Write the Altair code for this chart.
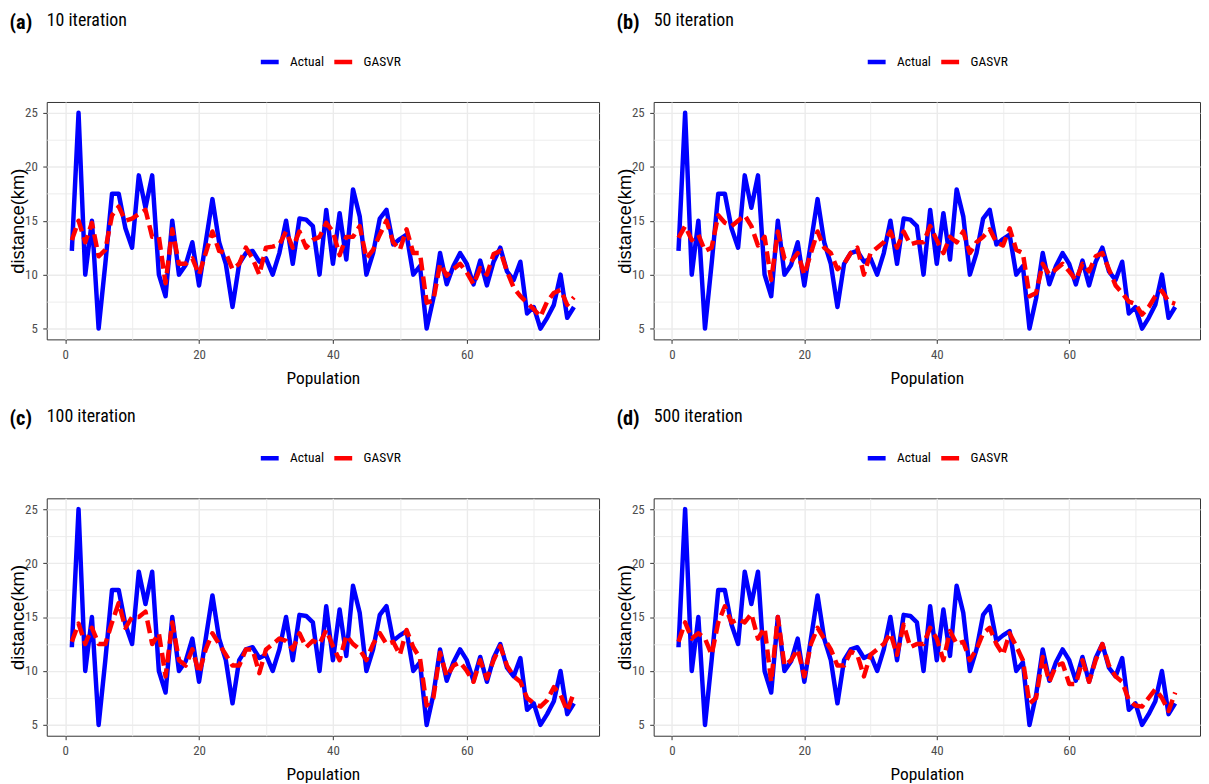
import altair as alt
import pandas as pd

population = list(range(1, 77))

actual = [12.2, 25, 10, 15, 5, 11, 17.5, 17.5, 14.3, 12.5,
          19.2, 16.2, 19.2, 10, 8, 15, 10, 10.9, 13, 9,
          13, 17, 13, 11, 7, 11, 12, 12.2, 11.2, 11.5,
          10, 12, 15, 11, 15.2, 15.1, 14.5, 10, 16, 11,
          15.7, 11.4, 17.9, 15.4, 10, 12, 15.2, 16, 12.8, 13.3,
          13.7, 10, 10.8, 5, 7.8, 12, 9.1, 10.8, 12, 11,
          9.1, 11.3, 9, 11.2, 12.5, 10.3, 9.5, 11.2, 6.4, 7,
          5, 6, 7.2, 10, 6, 7]

gasvr_10 = [13.2, 15, 13, 14.8, 11.7, 12.3, 15.5, 16.3, 15, 15.2,
            15.6, 16, 13.5, 13.5, 9.2, 14.2, 11, 11, 11.5, 10,
            12, 14, 12.2, 12, 10.5, 11, 12.5, 11.5, 10, 12.5,
            12.6, 12.8, 14, 12.5, 14, 12.5, 13.2, 13.5, 14.8, 14,
            11.8, 13.5, 13.5, 14.5, 11.5, 12.3, 13.7, 15, 13, 12.3,
            14.2, 12, 12, 7.4, 7.6, 11, 9.9, 10.5, 11, 10.2,
            9.1, 10.6, 10, 11.9, 12.2, 10.3, 8.8, 8, 7.4, 6.8,
            6.1, 7.5, 8.3, 8.6, 7.2, 7.9]

gasvr_50 = [13.4, 14.5, 13.2, 13.7, 12.2, 12.5, 15.5, 14.8, 14.5, 15,
            15.5, 14.5, 12.7, 13.5, 9.5, 14, 11.5, 11.2, 12, 10,
            12, 14, 12.5, 12, 10.5, 11, 12, 12.5, 10, 12,
            12.5, 13, 14, 12.5, 14, 12.8, 13, 13, 14.5, 13.2,
            12, 13.5, 13, 14, 12, 13, 13.5, 14.2, 13, 12.7,
            14.3, 12.3, 12, 8, 8.3, 11, 10, 10.5, 11, 10.3,
            9.5, 11, 10.3, 11.7, 12, 10.5, 9, 8.3, 7.5, 7.3,
            6.3, 7, 8, 8.5, 7.5, 7.3]

gasvr_100 = [12.7, 14.4, 12.5, 14, 12.5, 12.5, 14.5, 16.3, 14, 15,
             15, 15.5, 12.5, 13.5, 9.5, 14.5, 11, 10.5, 12, 9.8,
             12, 13.5, 12.5, 11.5, 10.5, 10.5, 12, 12, 9.8, 12,
             12.5, 13, 12.8, 12, 13.5, 12.2, 12.8, 12.5, 13.8, 12.3,
             11, 13.3, 12.5, 12, 11, 12.5, 13.5, 12.5, 12.7, 11.5,
             13.8, 12.2, 11.2, 6.8, 7.5, 11.7, 9.5, 10.5, 10.8, 10,
             9, 11, 9.3, 11, 12.3, 10.5, 9.5, 9, 7.5, 7,
             6.7, 7.3, 8.5, 7.8, 6.3, 8]

gasvr_500 = [12.7, 14.5, 13, 13.5, 13, 11.5, 14.5, 16, 14.5, 14.8,
             14.5, 15.3, 13, 14, 9, 15, 10.5, 11, 12, 9.5,
             12.5, 14, 13, 12, 10.5, 10.5, 11.8, 11.5, 9.5, 11.5,
             12, 12.5, 13.5, 11.5, 14.3, 12.2, 12.5, 12.5, 14, 13,
             11, 13.7, 12.5, 12.7, 11, 12, 13.5, 14, 12.5, 11.5,
             13.5, 12.3, 11, 7, 7.5, 11.3, 9, 10.5, 10.7, 8.8,
             8.8, 11, 9, 11, 12.5, 10.5, 9.5, 9, 7.3, 6.8,
             6.7, 7.5, 8.3, 7.5, 6.3, 8]

panel_tags = ["(a)", "(b)", "(c)", "(d)"]
panel_titles = ["10 iteration", "50 iteration", "100 iteration", "500 iteration"]
predictions = [gasvr_10, gasvr_50, gasvr_100, gasvr_500]
series_names = ["Actual", "GASVR"]
series_colors = ["#0000FF", "#FF0000"]
x_grid_values = [0, 10, 20, 30, 40, 50, 60, 70]
y_grid_values = [5, 7.5, 10, 12.5, 15, 17.5, 20, 22.5, 25]

NARROW = "'Roboto Condensed', 'Liberation Sans Narrow', 'Arial Narrow', 'Liberation Sans', Arial, sans-serif"
REGULAR = "'Liberation Sans', Arial, sans-serif"
PANEL_H = 239

color_scale = alt.Scale(domain=series_names, range=series_colors)


def panel(pred, tag, title, width):
    n = len(population)
    df = pd.DataFrame({
        "Population": population + population,
        "distance": actual + pred,
        "series": [series_names[0]] * n + [series_names[1]] * n,
    })
    x_enc = alt.X("Population:Q",
                  scale=alt.Scale(domain=[-2.75, 79.75], nice=False, zero=False),
                  axis=alt.Axis(
                      values=x_grid_values,
                      labelExpr="datum.value % 20 === 0 ? format(datum.value, 'd') : ''",
                      title="Population", titleFont=NARROW, titleFontSize=17.5,
                      titleFontWeight="normal", titleColor="#000000",
                      titlePadding=8,
                      labelFont=NARROW, labelFontSize=13, labelColor="#4D4D4D",
                      labelPadding=5, labelOverlap=False, labelFlush=False,
                      tickSize=4, tickColor="#333333",
                      tickOpacity={"condition": {"test": "datum.value % 20 === 0", "value": 1}, "value": 0},
                      domain=False, grid=True, gridColor="#EBEBEB",
                      gridWidth={"condition": {"test": "datum.value % 20 === 0", "value": 1.4}, "value": 0.9},
                  ))
    y_enc = alt.Y("distance:Q",
                  scale=alt.Scale(domain=[4, 26], nice=False, zero=False),
                  axis=alt.Axis(
                      values=y_grid_values,
                      labelExpr="datum.value % 5 === 0 ? format(datum.value, 'd') : ''",
                      title="distance(km)", titleFont=REGULAR, titleFontSize=18.5,
                      titleFontWeight="normal", titleColor="#000000",
                      titleX=-29, titleY=PANEL_H / 2, titleAngle=270,
                      titleAlign="center", titleBaseline="middle",
                      labelFont=NARROW, labelFontSize=13, labelColor="#4D4D4D",
                      labelPadding=5.5, labelOverlap=False, labelFlush=False,
                      tickSize=4, tickColor="#333333",
                      tickOpacity={"condition": {"test": "datum.value % 5 === 0", "value": 1}, "value": 0},
                      domain=False, grid=True, gridColor="#EBEBEB",
                      gridWidth={"condition": {"test": "datum.value % 5 === 0", "value": 1.4}, "value": 0.9},
                  ))
    c_enc = alt.Color("series:N", scale=color_scale,
                      legend=alt.Legend(title=None, orient="none", legendX=213, legendY=-52,
                                        direction="horizontal", symbolType="stroke",
                                        symbolSize=324, symbolStrokeWidth=4.5, symbolDash=[1, 0],
                                        labelFont=NARROW, labelFontSize=13.5, labelColor="#000000",
                                        labelOffset=9, columnPadding=0))

    actual_line = alt.Chart(df).transform_filter(alt.datum.series == series_names[0]).mark_line(
        strokeWidth=4.5, strokeCap="butt", strokeJoin="round"
    ).encode(x=x_enc, y=y_enc, color=c_enc)
    pred_line = alt.Chart(df).transform_filter(alt.datum.series == series_names[1]).mark_line(
        strokeWidth=4.5, strokeCap="butt", strokeJoin="round", strokeDash=[13, 6]
    ).encode(x=x_enc, y=y_enc, color=c_enc)

    tag_text = alt.Chart(pd.DataFrame({"t": [tag]})).mark_text(
        font=NARROW, fontSize=20.5, fontWeight="bold", align="left", baseline="top", color="#000000"
    ).encode(x=alt.value(-37.5), y=alt.value(-89.5), text="t:N")
    title_text = alt.Chart(pd.DataFrame({"t": [title]})).mark_text(
        font=NARROW, fontSize=18, align="left", baseline="top", color="#000000"
    ).encode(x=alt.value(0), y=alt.value(-90.7), text="t:N")

    return alt.layer(actual_line, pred_line, tag_text, title_text).properties(width=width, height=PANEL_H)


pa = panel(predictions[0], panel_tags[0], panel_titles[0], 556)
pb = panel(predictions[1], panel_tags[1], panel_titles[1], 550)
pc = panel(predictions[2], panel_tags[2], panel_titles[2], 556)
pd_ = panel(predictions[3], panel_tags[3], panel_titles[3], 550)

row1 = alt.hconcat(pa, pb, spacing=15).resolve_legend(color="independent")
row2 = alt.hconcat(pc, pd_, spacing=15).resolve_legend(color="independent")

chart = alt.vconcat(row1, row2, spacing=20).resolve_legend(color="independent").properties(
    padding=0, background="#FFFFFF"
).configure_view(stroke="#333333", strokeWidth=1)

chart.save("out.html", embed_options={"renderer": "svg", "actions": False})
